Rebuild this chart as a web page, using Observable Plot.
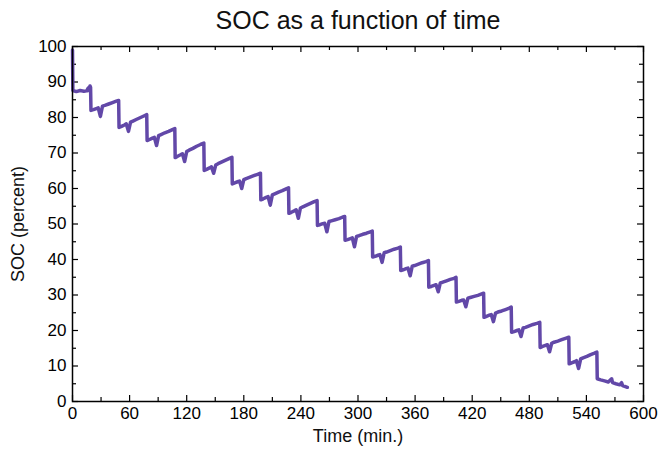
<!DOCTYPE html>
<html>
<head>
<meta charset="utf-8">
<script src="https://cdn.jsdelivr.net/npm/d3@7"></script>
<script src="https://cdn.jsdelivr.net/npm/@observablehq/plot@0.6"></script>
<style>
  html, body { margin: 0; padding: 0; background: white; }
</style>
</head>
<body>
<div id="chart"></div>
<script>
// Tick values
const xTicks = [0, 60, 120, 180, 240, 300, 360, 420, 480, 540, 600];
const xMinorTicks = [30, 90, 150, 210, 270, 330, 390, 450, 510, 570];
const yTicks = [0, 10, 20, 30, 40, 50, 60, 70, 80, 90, 100];
const yMinorTicks = [5, 15, 25, 35, 45, 55, 65, 75, 85, 95];

// Time (min.) and SOC (percent)
const time = [
  0, 0.4, 4, 8, 12, 15, 16.5, 17.3, 18.4, 19.0,
  19.4, 22, 25, 27, 29.3, 31.5, 34, 38, 42, 46, 48.5,
  48.9, 51.5, 54.5, 56.5, 58.8, 61, 63.5, 67.5, 71.5, 75.5, 78.0,
  78.4, 81, 84, 86, 88.3, 90.5, 93, 97, 101, 105, 107.5,
  107.9, 110.5, 113.5, 115.5, 117.8, 120, 122.5, 126.5, 130.5, 134.5, 138.0,
  138.4, 141, 144, 146, 148.3, 150.5, 153, 157, 161, 165, 167.5,
  167.9, 170.5, 173.5, 175.5, 177.8, 180, 182.5, 186.5, 190.5, 194.5, 197.5,
  197.9, 200.5, 203.5, 205.5, 207.8, 210, 212.5, 216.5, 220.5, 224.5, 227.0,
  227.4, 230, 233, 235, 237.3, 239.5, 242, 246, 250, 254, 257.0,
  257.4, 260, 263, 265, 267.3, 269.5, 272, 276, 280, 283.5, 286.0,
  286.4, 289, 292, 294, 296.3, 298.5, 301, 305, 309, 313, 315.0,
  315.4, 318, 321, 323, 325.3, 327.5, 330, 334, 338, 342, 344.5,
  344.9, 347.5, 350.5, 352.5, 354.8, 357, 359.5, 363.5, 367.5, 371.5, 374.0,
  374.4, 377, 380, 382, 384.3, 386.5, 389, 393, 397, 401, 403.0,
  403.4, 406, 409, 411, 413.3, 415.5, 418, 422, 426, 430, 432.0,
  432.4, 435, 438, 440, 442.3, 444.5, 447, 451, 455, 459, 461.0,
  461.4, 464, 467, 469, 471.3, 473.5, 476, 480, 484, 488, 491.0,
  491.4, 494, 497, 499, 501.3, 503.5, 506, 510, 514, 518, 521.5,
  521.9, 524.5, 527.5, 529.5, 531.8, 534, 536.5, 540.5, 544.5, 548.5, 551.0,
  551.4, 555, 559, 563, 566.5, 567.5, 571, 575, 577, 578, 581, 583
];
const soc = [
  99.0, 87.6, 87.3, 87.6, 87.4, 87.5, 88.3, 87.6, 88.9, 88.5,
  82.0, 82.2, 82.5, 82.7, 80.3, 83.2, 83.4, 83.8, 84.2, 84.6, 84.8,
  77.2, 77.5, 77.9, 78.2, 76.1, 78.7, 79.0, 79.5, 80.0, 80.5, 80.8,
  73.5, 73.8, 74.2, 74.4, 72.1, 74.9, 75.2, 75.7, 76.1, 76.6, 76.9,
  68.7, 69.1, 69.5, 69.8, 67.6, 70.4, 70.8, 71.3, 71.9, 72.4, 72.8,
  65.1, 65.4, 65.8, 66.1, 64.3, 66.6, 67.0, 67.5, 68.0, 68.5, 68.8,
  61.3, 61.6, 61.9, 62.1, 60.0, 62.5, 62.8, 63.2, 63.6, 64.0, 64.3,
  56.8, 57.1, 57.5, 57.7, 55.3, 58.2, 58.5, 59.0, 59.4, 59.9, 60.2,
  53.0, 53.3, 53.7, 54.0, 51.6, 54.5, 54.8, 55.3, 55.8, 56.3, 56.6,
  49.6, 49.8, 50.1, 50.2, 47.8, 50.7, 50.9, 51.2, 51.5, 51.9, 52.1,
  45.4, 45.6, 45.9, 46.1, 43.6, 46.5, 46.7, 47.1, 47.4, 47.8, 48.0,
  40.7, 40.9, 41.2, 41.4, 39.2, 41.9, 42.1, 42.5, 42.9, 43.2, 43.5,
  36.9, 37.1, 37.4, 37.6, 35.4, 38.1, 38.3, 38.7, 39.1, 39.4, 39.7,
  32.2, 32.4, 32.7, 32.9, 30.9, 33.4, 33.6, 34.0, 34.4, 34.7, 35.0,
  28.0, 28.2, 28.5, 28.6, 26.7, 29.1, 29.3, 29.6, 29.9, 30.3, 30.5,
  23.7, 24.0, 24.3, 24.5, 22.5, 24.9, 25.2, 25.5, 25.9, 26.3, 26.6,
  19.5, 19.7, 20.0, 20.2, 18.3, 20.7, 20.9, 21.3, 21.7, 22.0, 22.3,
  15.2, 15.5, 15.8, 16.0, 14.0, 16.4, 16.7, 17.0, 17.4, 17.8, 18.1,
  10.6, 10.9, 11.2, 11.5, 9.3, 12.0, 12.3, 12.7, 13.2, 13.6, 13.9,
  6.4, 6.1, 5.8, 5.5, 6.4, 5.3, 5.0, 4.7, 5.3, 4.5, 4.2, 4.0
];

const data = time.map((t, i) => ({time: t, soc: soc[i]}));

const W = 661, H = 452;
const mL = 72, mR = 18, mT = 46, mB = 51;
const pw = W - mL - mR, ph = H - mT - mB;
const majorLen = 6, minorLen = 4;
const font = "'Liberation Sans', Arial, Helvetica, sans-serif";

const chart = Plot.plot({
  width: W,
  height: H,
  marginLeft: mL,
  marginRight: mR,
  marginTop: mT,
  marginBottom: mB,
  style: {fontFamily: font, fontSize: "17px", background: "white", color: "black"},
  x: {domain: [0, 600]},
  y: {domain: [0, 100]},
  marks: [
    Plot.axisX(xTicks, {tickSize: 0, tickPadding: 5, fontSize: 17, label: null}),
    Plot.axisY(yTicks, {tickSize: 0, tickPadding: 6, fontSize: 17, label: null}),
    // inward ticks, bottom & top
    Plot.tickX(xTicks, {x: d => d, insetTop: ph - majorLen, stroke: "black", strokeWidth: 1.2}),
    Plot.tickX(xTicks, {x: d => d, insetBottom: ph - majorLen, stroke: "black", strokeWidth: 1.2}),
    Plot.tickX(xMinorTicks, {x: d => d, insetTop: ph - minorLen, stroke: "black", strokeWidth: 1.2}),
    Plot.tickX(xMinorTicks, {x: d => d, insetBottom: ph - minorLen, stroke: "black", strokeWidth: 1.2}),
    // inward ticks, left & right
    Plot.tickY(yTicks, {y: d => d, insetRight: pw - majorLen, stroke: "black", strokeWidth: 1.2}),
    Plot.tickY(yTicks, {y: d => d, insetLeft: pw - majorLen, stroke: "black", strokeWidth: 1.2}),
    Plot.tickY(yMinorTicks, {y: d => d, insetRight: pw - minorLen, stroke: "black", strokeWidth: 1.2}),
    Plot.tickY(yMinorTicks, {y: d => d, insetLeft: pw - minorLen, stroke: "black", strokeWidth: 1.2}),
    Plot.line(data, {x: "time", y: "soc", stroke: "#6248a8", strokeWidth: 3.5, strokeLinejoin: "round"}),
    Plot.frame({stroke: "black", strokeWidth: 1.5}),
    Plot.text(["SOC as a function of time"], {text: d => d, frameAnchor: "top", dy: -35, fontSize: 25, fill: "#111"}),
    Plot.text(["Time (min.)"], {text: d => d, frameAnchor: "bottom", dy: 40, fontSize: 18, fill: "#111"}),
    Plot.text(["SOC (percent)"], {text: d => d, frameAnchor: "left", textAnchor: "middle", lineAnchor: "middle", dx: -54, rotate: -90, fontSize: 18, fill: "#111"})
  ]
});

document.getElementById("chart").appendChild(chart);
</script>
</body>
</html>
